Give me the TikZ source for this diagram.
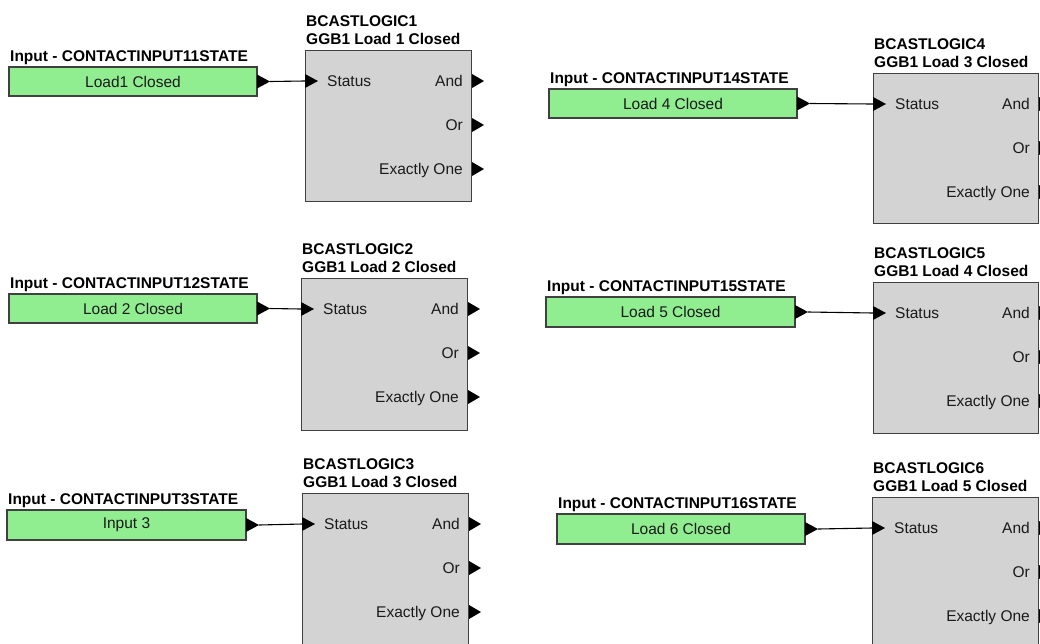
\documentclass[tikz,border=0pt]{standalone}
\usepackage{fontspec}
\setmainfont{Liberation Sans}
\usetikzlibrary{calc}
\definecolor{ingreen}{HTML}{90EE90}
\definecolor{blkgray}{HTML}{D3D3D3}
\definecolor{edgec}{HTML}{404040}
\definecolor{txtc}{HTML}{1A1A1A}
\tikzset{
  inbx/.style={draw=edgec, fill=ingreen, line width=1.3pt, inner sep=0pt, text=txtc,
    font=\fontsize{15.5}{18}\selectfont},
  blk/.style={draw=edgec, fill=blkgray, line width=1.3pt, inner sep=0pt},
  lbl/.style={inner sep=0pt, font=\fontsize{15.5}{18}\selectfont\bfseries, text=black},
  port/.style={inner sep=0pt, font=\fontsize{15.5}{18}\selectfont, text=txtc},
  tri/.style={fill=black},
  wire/.style={draw=black, line width=1.1pt},
}
% input: name, x1, y1, x2, y2, text, label
\newcommand\ininput[7]{%
  \node[inbx, minimum width={(#4-#2)*1pt}, minimum height={(#5-#3)*1pt}] (#1) at ({(#2+#4)/2},{(#3+#5)/2}) {#6};
  \node[lbl, anchor=base west] (#1l) at ({#2+1},{#3-6}) {#7};
  \fill[tri] ({#4},{(#3+#5)/2-7}) -- ({#4+13},{(#3+#5)/2}) -- ({#4},{(#3+#5)/2+7}) -- cycle;
  \coordinate (#1o) at ({#4+13},{(#3+#5)/2});
}
% block: name, x1, y1, x2, y2, title1, title2
\newcommand\lblock[7]{%
  \node[blk, anchor=north west, minimum width={(#4-#2)*1pt}, minimum height={(#5-#3)*1pt}] (#1) at (#2,#3) {};
  \node[lbl, anchor=base west] (#1a) at ({#2+1},{#3-24}) {#6};
  \node[lbl, anchor=base west] (#1b) at ({#2+1},{#3-6}) {#7};
  \coordinate (#1s) at ({#2},{#3+31});
  \fill[tri] ({#2},{#3+31-7}) -- ({#2+13},{#3+31}) -- ({#2},{#3+31+7}) -- cycle;
  \node[port, anchor=base west] (#1st) at ({#2+22},{#3+36.5}) {Status};
  \node[port, anchor=base east] (#1and) at ({#4-8},{#3+36.5}) {And};
  \node[port, anchor=base east] (#1or) at ({#4-8},{#3+80.5}) {Or};
  \node[port, anchor=base east] (#1ex) at ({#4-8},{#3+124.5}) {Exactly One};
  \foreach \dy in {31,75,119}{
    \fill[tri] ({#4+1},{#3+\dy-7}) -- ({#4+13},{#3+\dy}) -- ({#4+1},{#3+\dy+7}) -- cycle;
  }
}
\begin{document}
\begin{tikzpicture}[x=1pt,y=-1pt]
\clip (0,0) rectangle (1040,643);
\fill[white] (0,0) rectangle (1040,643);

\lblock{b1}{305}{50}{471}{201}{BCASTLOGIC1}{GGB1 Load 1 Closed}
\lblock{b2}{301}{278}{467}{430}{BCASTLOGIC2}{GGB1 Load 2 Closed}
\lblock{b3}{302}{493}{468}{665}{BCASTLOGIC3}{GGB1 Load 3 Closed}
\lblock{b4}{873}{73}{1038}{223}{BCASTLOGIC4}{GGB1 Load 3 Closed}
\lblock{b5}{873}{282}{1038}{433}{BCASTLOGIC5}{GGB1 Load 4 Closed}
\lblock{b6}{872}{497}{1038}{665}{BCASTLOGIC6}{GGB1 Load 5 Closed}

\ininput{i1}{9}{67}{257}{96}{Load1 Closed}{Input - CONTACTINPUT11STATE}
\ininput{i2}{9}{294}{257}{323}{Load 2 Closed}{Input - CONTACTINPUT12STATE}
\ininput{i3}{7}{510}{246}{540}{Input 3}{Input - CONTACTINPUT3STATE}
\ininput{i4}{549}{89}{797}{118}{Load 4 Closed}{Input - CONTACTINPUT14STATE}
\ininput{i5}{546}{297}{795}{327}{Load 5 Closed}{Input - CONTACTINPUT15STATE}
\ininput{i6}{557}{514}{805}{544}{Load 6 Closed}{Input - CONTACTINPUT16STATE}

\draw[wire] (i1o) -- (b1s);
\draw[wire] (i2o) -- (b2s);
\draw[wire] (i3o) -- (b3s);
\draw[wire] (i4o) -- (b4s);
\draw[wire] (i5o) -- (b5s);
\draw[wire] (i6o) -- (b6s);
\end{tikzpicture}
\end{document}
